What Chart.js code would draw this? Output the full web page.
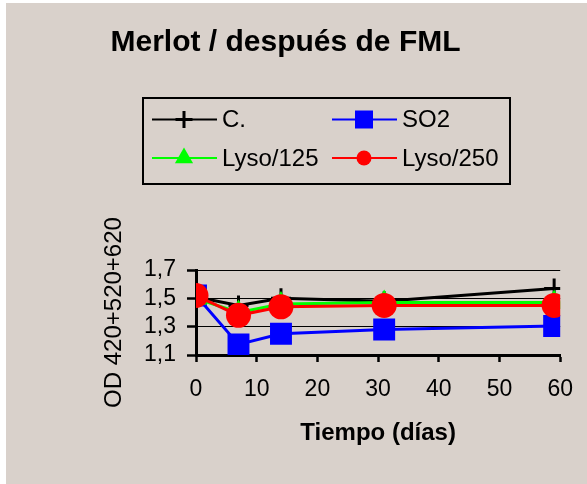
<!DOCTYPE html>
<html>
<head>
<meta charset="utf-8">
<script src="https://cdn.jsdelivr.net/npm/chart.js@4.4.1/dist/chart.umd.min.js"></script>
<style>
  html, body { margin: 0; padding: 0; background: #fff; }
  #wrap { width: 587px; height: 484px; }
</style>
</head>
<body>
<div id="wrap"><canvas id="chart" width="587" height="484"></canvas></div>
<script>
// values
const days = [0, 7, 14, 31, 59];
const seriesNames = ['C.', 'SO2', 'Lyso/125', 'Lyso/250'];
const controlValues = [1.51, 1.45, 1.50, 1.48, 1.57];
const so2Values = [1.52, 1.175, 1.25, 1.28, 1.305];
const lyso125Values = [1.50, 1.40, 1.46, 1.47, 1.47];
const lyso250Values = [1.52, 1.38, 1.44, 1.45, 1.45];
const xTicks = [0, 10, 20, 30, 40, 50, 60];
const yTicks = [1.1, 1.3, 1.5, 1.7];

const FONT = '"Liberation Sans", Arial, sans-serif';
const BG = '#d9d1cb';

function toPoints(values) {
  return days.map((d, i) => ({ x: d, y: values[i] }));
}

function drawMarker(ctx, style, x, y, r, color) {
  ctx.fillStyle = color;
  ctx.strokeStyle = color;
  ctx.lineWidth = 3;
  ctx.beginPath();
  if (style === 'cross') {
    ctx.moveTo(x - r, y); ctx.lineTo(x + r, y);
    ctx.moveTo(x, y - r); ctx.lineTo(x, y + r);
    ctx.stroke();
    return;
  }
  if (style === 'rect') {
    ctx.rect(x - r, y - r, 2 * r, 2 * r);
  } else if (style === 'triangle') {
    ctx.moveTo(x, y - r);
    ctx.lineTo(x + 0.866 * r, y + 0.5 * r);
    ctx.lineTo(x - 0.866 * r, y + 0.5 * r);
    ctx.closePath();
  } else {
    ctx.arc(x, y, r, 0, Math.PI * 2);
  }
  ctx.fill();
}

const backgroundPlugin = {
  id: 'background',
  beforeDraw(chart) {
    const ctx = chart.ctx;
    ctx.save();
    ctx.fillStyle = '#fff';
    ctx.fillRect(0, 0, chart.width, chart.height);
    ctx.fillStyle = BG;
    ctx.fillRect(6, 3, chart.width - 6, chart.height - 3);
    ctx.restore();
  }
};

// excel style boxed legend, two columns
const legendRadius = { cross: 8.5, rect: 9, triangle: 10.5, circle: 7.5 };
const boxLegendPlugin = {
  id: 'boxLegend',
  afterDraw(chart) {
    const ctx = chart.ctx;
    ctx.save();
    ctx.lineWidth = 2;
    ctx.strokeStyle = '#000';
    ctx.strokeRect(143, 98, 367, 86);
    chart.data.datasets.forEach((ds, i) => {
      const x0 = i % 2 === 0 ? 152 : 332;
      const y = i < 2 ? 119.5 : 158;
      ctx.strokeStyle = ds.borderColor;
      ctx.lineWidth = 2;
      ctx.beginPath();
      ctx.moveTo(x0, y);
      ctx.lineTo(x0 + 65, y);
      ctx.stroke();
      drawMarker(ctx, ds.pointStyle, x0 + 32, y, legendRadius[ds.pointStyle], ds.borderColor);
      ctx.fillStyle = '#000';
      ctx.font = '24px ' + FONT;
      ctx.textAlign = 'left';
      ctx.textBaseline = 'middle';
      ctx.fillText(ds.label, x0 + 70, y + 1);
    });
    ctx.restore();
  }
};

const ctx = document.getElementById('chart').getContext('2d');

new Chart(ctx, {
  type: 'line',
  data: {
    datasets: [
      {
        label: seriesNames[0],
        data: toPoints(controlValues),
        borderColor: '#000000',
        backgroundColor: '#000000',
        borderWidth: 3,
        pointStyle: 'cross',
        pointRadius: 10,
        pointBorderWidth: 3,
        order: 4
      },
      {
        label: seriesNames[1],
        data: toPoints(so2Values),
        borderColor: '#0000ff',
        backgroundColor: '#0000ff',
        borderWidth: 3,
        pointStyle: 'rect',
        pointRadius: 15.5,
        pointBorderWidth: 0,
        order: 3
      },
      {
        label: seriesNames[2],
        data: toPoints(lyso125Values),
        borderColor: '#00ff00',
        backgroundColor: '#00ff00',
        borderWidth: 3,
        pointStyle: 'triangle',
        pointRadius: 13,
        pointBorderWidth: 0,
        order: 2
      },
      {
        label: seriesNames[3],
        data: toPoints(lyso250Values),
        borderColor: '#ff0000',
        backgroundColor: '#ff0000',
        borderWidth: 3,
        pointStyle: 'circle',
        pointRadius: 12.5,
        pointBorderWidth: 0,
        order: 1
      }
    ]
  },
  options: {
    responsive: false,
    animation: false,
    devicePixelRatio: 1,
    layout: { padding: { top: 5, right: 16, bottom: 0, left: 0 } },
    plugins: {
      legend: { display: false },
      tooltip: { enabled: false },
      title: {
        display: true,
        text: 'Merlot / después de FML',
        color: '#000',
        font: { family: FONT, size: 30, weight: 'bold' },
        padding: { top: 20, bottom: 209 }
      }
    },
    scales: {
      x: {
        type: 'linear',
        min: xTicks[0],
        max: xTicks[xTicks.length - 1],
        afterBuildTicks: s => { s.ticks = xTicks.map(v => ({ value: v })); },
        afterFit: s => { s.height = 129; },
        border: { display: true, color: '#000', width: 3 },
        grid: { drawOnChartArea: false, drawTicks: true, tickLength: 7, tickWidth: 2.5, tickColor: '#000' },
        ticks: { color: '#000', padding: 14, maxRotation: 0, autoSkip: false, font: { family: FONT, size: 23 } },
        title: {
          display: true,
          text: 'Tiempo (días)',
          color: '#000',
          font: { family: FONT, size: 24, weight: 'bold' },
          padding: { top: 0, bottom: 36.6 }
        }
      },
      y: {
        type: 'linear',
        min: yTicks[0],
        max: yTicks[yTicks.length - 1],
        afterBuildTicks: s => { s.ticks = yTicks.map(v => ({ value: v })); },
        afterFit: s => { s.width = 196; },
        border: { display: true, color: '#000', width: 3 },
        grid: { color: '#000', lineWidth: 1, tickLength: 9, tickWidth: 2.5, tickColor: '#000' },
        ticks: {
          color: '#000',
          padding: 11,
          autoSkip: false,
          font: { family: FONT, size: 23 },
          callback: v => v.toFixed(1).replace('.', ',')
        },
        title: {
          display: true,
          text: 'OD 420+520+620',
          color: '#000',
          font: { family: FONT, size: 24 },
          padding: { top: 100, bottom: 0 }
        }
      }
    }
  },
  plugins: [backgroundPlugin, boxLegendPlugin]
});
</script>
</body>
</html>
